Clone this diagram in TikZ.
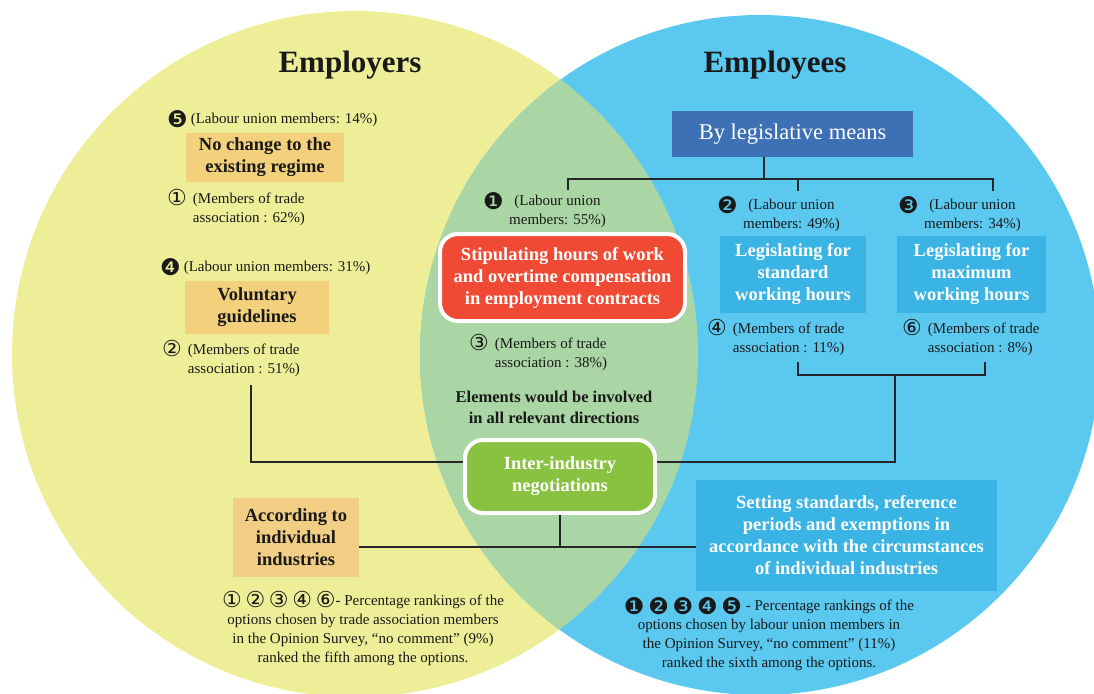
\documentclass[tikz,border=0pt]{standalone}
\usepackage{fontspec}
\setmainfont{Liberation Serif}
\newfontfamily\symfont{DejaVu Sans}
\usetikzlibrary{positioning,shadows}

\definecolor{venyellow}{HTML}{EFEE98}
\definecolor{venblue}{HTML}{5BC9EF}
\definecolor{vengreen}{HTML}{AAD5A4}
\definecolor{boxorange}{HTML}{F3D07B}
\definecolor{boxpeach}{HTML}{F2CD84}
\definecolor{boxnavy}{HTML}{3E70B6}
\definecolor{boxsky}{HTML}{3AB4E4}
\definecolor{boxred}{HTML}{F04A34}
\definecolor{boxgreen}{HTML}{89C240}

\newcommand{\circnum}[1]{\smash{\raisebox{-2.5pt}{\symfont\fontsize{22}{19}\selectfont#1}}}
\newcommand{\blacknum}[1]{\smash{\raisebox{-4pt}{\symfont\fontsize{23}{19}\selectfont#1}}}
% number on the left, two lines of text beside it
\newcommand{\optnote}[3]{\begin{tabular}[t]{@{}l@{\hspace{6pt}}l@{}}\circnum{#1} & #2\\ & #3\end{tabular}}
\newcommand{\rowsc}[1]{\begin{tabular}[t]{@{}c@{}}#1\end{tabular}}

\begin{document}
\begin{tikzpicture}[x=1pt,y=-1pt]
    \tikzstyle{every node}=[inner sep=0pt, text=black!90]
    \tikzstyle{title}=[font=\bfseries\fontsize{31}{36}\selectfont, anchor=base]
    \tikzstyle{note}=[font=\fontsize{15}{19}\selectfont, anchor=base west]
    \tikzstyle{knum}=[font=\fontsize{15}{19}\selectfont, anchor=base east]
    \tikzstyle{optbox}=[fill=boxorange, align=center, font=\bfseries\fontsize{18.5}{22}\selectfont]
    \tikzstyle{skybox}=[optbox, fill=boxsky, text=white]
    \tikzstyle{roundbox}=[optbox, fill=boxred, text=white, rounded corners=18pt, draw=white, line width=4pt,
        drop shadow={shadow xshift=2pt, shadow yshift=-2pt, opacity=0.3}]
    \tikzstyle{link}=[draw=black!85, line width=1.1pt]

    \useasboundingbox (0,0) rectangle (1094,693);
    % the two sets and their overlap
    \fill[venyellow] (355,354) circle[radius=343];
    \fill[venblue] (760,355) circle[radius=340];
    \begin{scope}
        \clip (355,354) circle[radius=343];
        \fill[vengreen] (760,355) circle[radius=340];
    \end{scope}

    \node[title] (employers) at (350,72) {Employers};
    \node[title] (employees) at (775,72) {Employees};

    % employers
    \node[note] (n5) at (167,123) {\blacknum{❺}\hspace{3pt}(Labour union members: 14\%)};
    \node[optbox, minimum width=158, minimum height=49] (nochange) at (265,157.5) {No change to the\\existing regime};
    \node[note] (t1) at (167,203) {\optnote{①}{(Members of trade}{association : 62\%)}};
    \node[note] (n4) at (160,271) {\blacknum{❹}\hspace{3pt}(Labour union members: 31\%)};
    \node[optbox, minimum width=144, minimum height=53] (voluntary) at (257,307.5) {Voluntary\\guidelines};
    \node[note] (t2) at (162,354) {\optnote{②}{(Members of trade}{association : 51\%)}};
    \node[optbox, fill=boxpeach, minimum width=126, minimum height=79] (accord) at (296,537.5) {According to\\individual\\industries};
    \node[note, anchor=base] (tkey) at (363,605) {\rowsc{\circnum{①} \circnum{②} \circnum{③} \circnum{④} \circnum{⑥}- Percentage rankings of the\\options chosen by trade association members\\in the Opinion Survey, “no comment” (9\%)\\ranked the fifth among the options.}};

    % both
    \node[note] (n1) at (509,205) {\rowsc{(Labour union\\members: 55\%)}};
    \node[knum] (k1) at ([xshift=-5pt]n1.base west) {\blacknum{❶}};
    \node[roundbox, minimum width=245, minimum height=87] (stipulate) at (562.5,277.5) {Stipulating hours of work\\and overtime compensation\\in employment contracts};
    \node[note] (t3) at (469,348) {\optnote{③}{(Members of trade}{association : 38\%)}};
    \node[font=\bfseries\fontsize{16.5}{21}\selectfont, anchor=base] (elements) at (554,402) {\rowsc{Elements would be involved\\in all relevant directions}};
    \node[roundbox, fill=boxgreen, minimum width=190, minimum height=73] (inter) at (560,476.5) {Inter-industry\\negotiations};

    % employees
    \node[fill=boxnavy, text=white, font=\fontsize{22.5}{26}\selectfont, minimum width=241, minimum height=46] (legis) at (792.5,134) {By legislative means};
    \node[note] (n2) at (743,209.5) {\rowsc{(Labour union\\members: 49\%)}};
    \node[knum] (k2) at ([xshift=-5pt]n2.base west) {\blacknum{❷}};
    \node[note] (n3) at (924,209.5) {\rowsc{(Labour union\\members: 34\%)}};
    \node[knum] (k3) at ([xshift=-5pt]n3.base west) {\blacknum{❸}};
    \node[skybox, minimum width=146, minimum height=77] (standard) at (793,274.5) {Legislating for\\standard\\working hours};
    \node[skybox, minimum width=149, minimum height=77] (maximum) at (971.5,274.5) {Legislating for\\maximum\\working hours};
    \node[note] (t4) at (707,333) {\optnote{④}{(Members of trade}{association : 11\%)}};
    \node[note] (t6) at (902,333) {\optnote{⑥}{(Members of trade}{association : 8\%)}};
    \node[skybox, minimum width=301, minimum height=111] (setting) at (846.5,535.5) {Setting standards, reference\\periods and exemptions in\\accordance with the circumstances\\of individual industries};
    \node[note, anchor=base] (ukey) at (769,610) {\rowsc{\blacknum{❶} \blacknum{❷} \blacknum{❸} \blacknum{❹} \blacknum{❺} - Percentage rankings of the\\options chosen by labour union members in\\the Opinion Survey, “no comment” (11\%)\\ranked the sixth among the options.}};

    % connectors
    \coordinate (legfoot) at (764,157);
    \coordinate (bar) at (764,179);
    \coordinate (d1) at (568,190);
    \coordinate (d2) at (798,191);
    \coordinate (d3) at (993,191);
    \draw[link] (legfoot) -- (bar);
    \draw[link] (d1) |- (bar) -| (d3);
    \draw[link] (bar -| d2) -- (d2);

    \coordinate (b1) at (798,362);
    \coordinate (b2) at (985,362);
    \coordinate (bj) at (895,375);
    \coordinate (rj) at (895,462);
    \coordinate (lt) at (251,385);
    \coordinate (lj) at (251,462);
    \draw[link] (b1) |- (bj) -| (b2);
    \draw[link] (bj) -- (rj) -- (rj -| inter.east);
    \draw[link] (lt) -- (lj) -- (lj -| inter.west);

    \coordinate (hb) at (560,547);
    \draw[link] (inter.south) -- (hb);
    \draw[link] (hb -| accord.east) -- (hb -| setting.west);
\end{tikzpicture}
\end{document}
